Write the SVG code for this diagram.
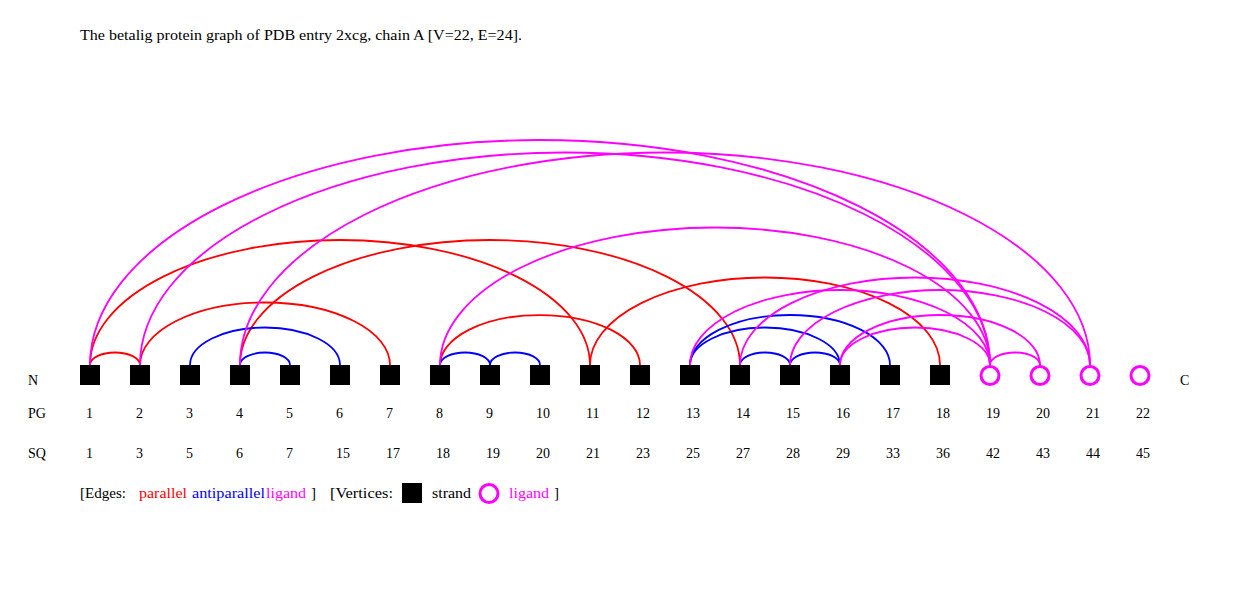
<svg xmlns="http://www.w3.org/2000/svg" width="1240" height="600" viewBox="0 0 1240 600">
<style>
text{font-family:"Liberation Serif","Times New Roman",serif;font-size:14px;fill:#000}
.w{font-size:15px}
.e{fill:none;stroke-width:1.8}
.p{stroke:#ff0000}
.a{stroke:#0000ff}
.l{stroke:#ff00ff}
.sq{fill:#000}
.lg{fill:none;stroke:#ff00ff;stroke-width:3}
.tr{fill:#ff0000}.tb{fill:#0000ff}.tm{fill:#ff00ff}
</style>
<rect width="1240" height="600" fill="#fff"/>
<text class="w" x="80" y="40" textLength="442" lengthAdjust="spacingAndGlyphs">The betalig protein graph of PDB entry 2xcg, chain A [V=22, E=24].</text>
<g id="edges">
<path class="e p" d="M90 365A25 12.5 0 0 1 140 365"/>
<path class="e p" d="M90 365A250 125 0 0 1 590 365"/>
<path class="e p" d="M140 365A125 62.5 0 0 1 390 365"/>
<path class="e p" d="M240 365A250 125 0 0 1 740 365"/>
<path class="e p" d="M440 365A100 50 0 0 1 640 365"/>
<path class="e p" d="M590 365A175 87.5 0 0 1 940 365"/>
<path class="e a" d="M190 365A75 37.5 0 0 1 340 365"/>
<path class="e a" d="M240 365A25 12.5 0 0 1 290 365"/>
<path class="e a" d="M440 365A25 12.5 0 0 1 490 365"/>
<path class="e a" d="M490 365A25 12.5 0 0 1 540 365"/>
<path class="e a" d="M690 365A75 37.5 0 0 1 840 365"/>
<path class="e a" d="M690 365A100 50 0 0 1 890 365"/>
<path class="e a" d="M740 365A25 12.5 0 0 1 790 365"/>
<path class="e a" d="M790 365A25 12.5 0 0 1 840 365"/>
<path class="e l" d="M90 365A450 225 0 0 1 990 365"/>
<path class="e l" d="M140 365A425 212.5 0 0 1 990 365"/>
<path class="e l" d="M440 365A275 137.5 0 0 1 990 365"/>
<path class="e l" d="M690 365A150 75 0 0 1 990 365"/>
<path class="e l" d="M840 365A75 37.5 0 0 1 990 365"/>
<path class="e l" d="M990 365A25 12.5 0 0 1 1040 365"/>
<path class="e l" d="M840 365A100 50 0 0 1 1040 365"/>
<path class="e l" d="M240 365A425 212.5 0 0 1 1090 365"/>
<path class="e l" d="M740 365A175 87.5 0 0 1 1090 365"/>
<path class="e l" d="M790 365A150 75 0 0 1 1090 365"/>
</g>
<text x="28" y="385">N</text>
<text x="1180" y="385">C</text>
<text x="28" y="418">PG</text>
<text x="28" y="458">SQ</text>
<g id="v1"><rect class="sq" x="80" y="365" width="20" height="20"/><text x="86" y="418">1</text><text x="86" y="458">1</text></g>
<g id="v2"><rect class="sq" x="130" y="365" width="20" height="20"/><text x="136" y="418">2</text><text x="136" y="458">3</text></g>
<g id="v3"><rect class="sq" x="180" y="365" width="20" height="20"/><text x="186" y="418">3</text><text x="186" y="458">5</text></g>
<g id="v4"><rect class="sq" x="230" y="365" width="20" height="20"/><text x="236" y="418">4</text><text x="236" y="458">6</text></g>
<g id="v5"><rect class="sq" x="280" y="365" width="20" height="20"/><text x="286" y="418">5</text><text x="286" y="458">7</text></g>
<g id="v6"><rect class="sq" x="330" y="365" width="20" height="20"/><text x="336" y="418">6</text><text x="336" y="458">15</text></g>
<g id="v7"><rect class="sq" x="380" y="365" width="20" height="20"/><text x="386" y="418">7</text><text x="386" y="458">17</text></g>
<g id="v8"><rect class="sq" x="430" y="365" width="20" height="20"/><text x="436" y="418">8</text><text x="436" y="458">18</text></g>
<g id="v9"><rect class="sq" x="480" y="365" width="20" height="20"/><text x="486" y="418">9</text><text x="486" y="458">19</text></g>
<g id="v10"><rect class="sq" x="530" y="365" width="20" height="20"/><text x="536" y="418">10</text><text x="536" y="458">20</text></g>
<g id="v11"><rect class="sq" x="580" y="365" width="20" height="20"/><text x="586" y="418">11</text><text x="586" y="458">21</text></g>
<g id="v12"><rect class="sq" x="630" y="365" width="20" height="20"/><text x="636" y="418">12</text><text x="636" y="458">23</text></g>
<g id="v13"><rect class="sq" x="680" y="365" width="20" height="20"/><text x="686" y="418">13</text><text x="686" y="458">25</text></g>
<g id="v14"><rect class="sq" x="730" y="365" width="20" height="20"/><text x="736" y="418">14</text><text x="736" y="458">27</text></g>
<g id="v15"><rect class="sq" x="780" y="365" width="20" height="20"/><text x="786" y="418">15</text><text x="786" y="458">28</text></g>
<g id="v16"><rect class="sq" x="830" y="365" width="20" height="20"/><text x="836" y="418">16</text><text x="836" y="458">29</text></g>
<g id="v17"><rect class="sq" x="880" y="365" width="20" height="20"/><text x="886" y="418">17</text><text x="886" y="458">33</text></g>
<g id="v18"><rect class="sq" x="930" y="365" width="20" height="20"/><text x="936" y="418">18</text><text x="936" y="458">36</text></g>
<g id="v19"><circle class="lg" cx="990" cy="375.5" r="9"/><text x="986" y="418">19</text><text x="986" y="458">42</text></g>
<g id="v20"><circle class="lg" cx="1040" cy="375.5" r="9"/><text x="1036" y="418">20</text><text x="1036" y="458">43</text></g>
<g id="v21"><circle class="lg" cx="1090" cy="375.5" r="9"/><text x="1086" y="418">21</text><text x="1086" y="458">44</text></g>
<g id="v22"><circle class="lg" cx="1140" cy="375.5" r="9"/><text x="1136" y="418">22</text><text x="1136" y="458">45</text></g>
<g id="legend">
<text class="w" x="80" y="498" textLength="46" lengthAdjust="spacingAndGlyphs">[Edges:</text>
<text class="w tr" x="139" y="498" textLength="48" lengthAdjust="spacingAndGlyphs">parallel</text>
<text class="w tb" x="192" y="498" textLength="73" lengthAdjust="spacingAndGlyphs">antiparallel</text>
<text class="w tm" x="266" y="498" textLength="40" lengthAdjust="spacingAndGlyphs">ligand</text>
<text class="w" x="311" y="498">]</text>
<text class="w" x="330" y="498" textLength="63" lengthAdjust="spacingAndGlyphs">[Vertices:</text>
<rect class="sq" x="402" y="483" width="20" height="20"/>
<text class="w" x="432" y="498" textLength="39" lengthAdjust="spacingAndGlyphs">strand</text>
<circle class="lg" cx="489" cy="493.5" r="9"/>
<text class="w tm" x="509" y="498" textLength="40" lengthAdjust="spacingAndGlyphs">ligand</text>
<text class="w" x="554" y="498">]</text>
</g>
</svg>
